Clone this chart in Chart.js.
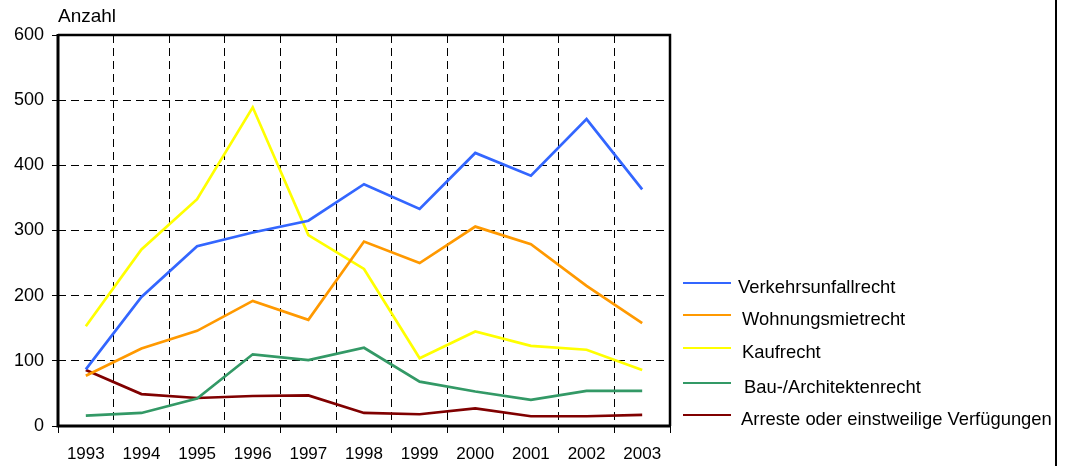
<!DOCTYPE html>
<html>
<head>
<meta charset="utf-8">
<script src="https://cdn.jsdelivr.net/npm/chart.js@4.4.1/dist/chart.umd.min.js"></script>
<style>
html,body{margin:0;padding:0;background:#fff;}
#wrap{width:1067px;height:466px;position:relative;}
</style>
</head>
<body>
<div id="wrap"><canvas id="c" width="1067" height="466"></canvas></div>
<script>
const years = ["1993","1994","1995","1996","1997","1998","1999","2000","2001","2002","2003"];
const verkehrsunfallrecht = [87,198,276,297,315,371,333,419,384,471,363];
const wohnungsmietrecht = [77,119,146,192,163,283,250,306,279,215,158];
const kaufrecht = [153,271,348,489,293,241,104,145,123,117,86];
const bauArchitektenrecht = [16,20,42,110,101,120,68,53,40,54,54];
const arreste = [86,49,43,46,47,20,18,27,15,15,17];
const yTicks = [0,100,200,300,400,500,600];
const seriesNames = ["Verkehrsunfallrecht","Wohnungsmietrecht","Kaufrecht","Bau-/Architektenrecht","Arreste oder einstweilige Verfügungen"];
const seriesColors = ["#3366FF","#FF9900","#FFFF00","#339966","#800000"];
const seriesData = [verkehrsunfallrecht, wohnungsmietrecht, kaufrecht, bauArchitektenrecht, arreste];

const FONT = "'Liberation Sans', Arial, sans-serif";

const framePlugin = {
  id: 'frame',
  afterDatasetsDraw(chart) {
    const {ctx, chartArea: a} = chart;
    ctx.save();
    ctx.strokeStyle = '#000';
    ctx.lineWidth = 2.5;
    ctx.beginPath();
    ctx.moveTo(a.left, a.top);
    ctx.lineTo(a.right, a.top);
    ctx.lineTo(a.right, a.bottom);
    ctx.stroke();
    ctx.lineWidth = 3;
    ctx.beginPath();
    ctx.moveTo(a.left, a.top - 1);
    ctx.lineTo(a.left, a.bottom);
    ctx.lineTo(a.right + 1, a.bottom);
    ctx.stroke();
    ctx.restore();
  },
  afterDraw(chart) {
    const {ctx} = chart;
    ctx.save();
    ctx.fillStyle = '#000';
    ctx.textBaseline = 'alphabetic';
    ctx.textAlign = 'left';
    ctx.font = '19px ' + FONT;
    ctx.fillText('Anzahl', 58, 22);
    // legend
    ctx.font = '18.4px ' + FONT;
    const ys = [283, 315, 348, 383, 415];
    const tx = [738, 742, 742, 744, 741];
    for (let i = 0; i < seriesNames.length; i++) {
      ctx.strokeStyle = seriesColors[i];
      ctx.lineWidth = 2;
      ctx.beginPath();
      ctx.moveTo(683, ys[i]);
      ctx.lineTo(731, ys[i]);
      ctx.stroke();
      ctx.fillStyle = '#000';
      ctx.fillText(seriesNames[i], tx[i], ys[i] + 10);
    }
    // right outer line
    ctx.strokeStyle = '#000';
    ctx.lineWidth = 2;
    ctx.beginPath();
    ctx.moveTo(1056, 0);
    ctx.lineTo(1056, 466);
    ctx.stroke();
    ctx.restore();
  }
};

new Chart(document.getElementById('c'), {
  type: 'line',
  data: {
    labels: years,
    datasets: seriesNames.map((n, i) => ({
      label: n,
      data: seriesData[i],
      borderColor: seriesColors[i],
      backgroundColor: seriesColors[i],
      borderWidth: 2.7,
      pointRadius: 0,
      tension: 0,
      fill: false
    }))
  },
  options: {
    responsive: false,
    animation: false,
    devicePixelRatio: 1,
    layout: {padding: {left: 0, right: 397, top: 35, bottom: 0}},
    plugins: {legend: {display: false}, tooltip: {enabled: false}, title: {display: false}},
    scales: {
      x: {
        type: 'category',
        offset: true,
        grid: {
          offset: true,
          color: '#000',
          lineWidth: 1,
          drawTicks: true,
          tickLength: 7,
          tickColor: '#000',
          tickWidth: 1,
          tickBorderDash: []
        },
        border: {display: false, dash: [8, 5]},
        ticks: {color: '#000', font: {family: FONT, size: 17}, padding: 11, maxRotation: 0, autoSkip: false},
        afterFit(scale) { scale.height = 40; }
      },
      y: {
        min: 0,
        max: 600,
        afterBuildTicks(scale) { scale.ticks = yTicks.map(v => ({value: v})); },
        grid: {
          color: '#000',
          lineWidth: 1,
          drawTicks: true,
          tickLength: 6,
          tickColor: '#000',
          tickWidth: 1,
          tickBorderDash: []
        },
        border: {display: false, dash: [8, 5]},
        ticks: {color: '#000', font: {family: FONT, size: 18}, padding: 8},
        afterFit(scale) { scale.width = 58; }
      }
    }
  },
  plugins: [framePlugin]
});
</script>
</body>
</html>
